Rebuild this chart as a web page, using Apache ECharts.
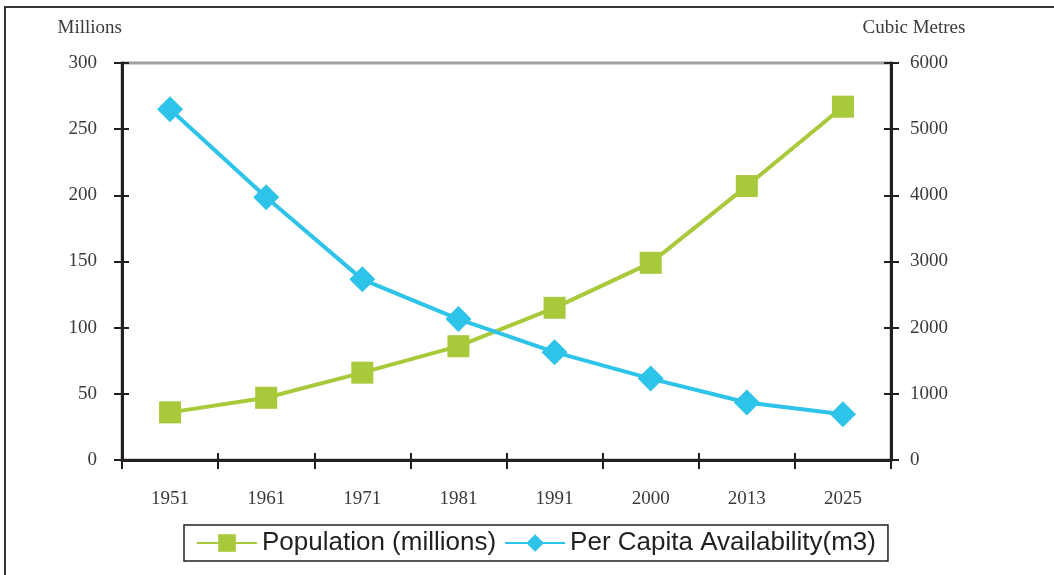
<!DOCTYPE html>
<html>
<head>
<meta charset="utf-8">
<script src="https://cdn.jsdelivr.net/npm/echarts@6/dist/echarts.min.js"></script>
<style>
  html, body { margin: 0; padding: 0; background: #fff; }
  #main { width: 1054px; height: 575px; }
</style>
</head>
<body>
<div id="main"></div>
<script>
var years = ['1951', '1961', '1971', '1981', '1991', '2000', '2013', '2025'];
var population = [36, 47, 66, 86, 115, 149, 207, 267];
var perCapita = [5300, 3970, 2730, 2130, 1630, 1230, 870, 690];
var leftTicks = [0, 50, 100, 150, 200, 250, 300];
var rightTicks = [0, 1000, 2000, 3000, 4000, 5000, 6000];

var myChart = echarts.init(document.getElementById('main'));

var serif = 'Liberation Serif';
var axisColor = '#231f20';
var labelStyle = { fontFamily: serif, fontSize: 19, color: '#3a3a3a' };

var option = {
    animation: false,
    graphic: [
        {
            type: 'rect',
            shape: { x: 5, y: 7, width: 1200, height: 700 },
            style: { fill: 'none', stroke: '#333', lineWidth: 2 },
            z: -1
        }
    ],
    grid: {
        left: 122, right: 163, top: 63, bottom: 115,
        show: true,
        borderColor: '#a0a0a0',
        borderWidth: 3
    },
    legend: {
        left: 184, top: 525,
        padding: [5, 12, 5, 12],
        borderColor: '#231f20',
        borderWidth: 1.5,
        itemWidth: 60,
        itemHeight: 22,
        itemGap: 8,
        textStyle: { fontFamily: 'Liberation Sans', fontSize: 26, color: '#231f20' },
        data: ['Population (millions)', 'Per Capita Availability(m3)']
    },
    xAxis: [
        {
            type: 'category',
            data: years,
            boundaryGap: true,
            axisLine: { lineStyle: { color: axisColor, width: 3 } },
            axisTick: { show: false },
            axisLabel: Object.assign({ margin: 30, interval: 0 }, labelStyle),
            splitLine: { show: false }
        },
        {
            type: 'category',
            data: years,
            position: 'bottom',
            offset: -7,
            boundaryGap: true,
            axisLine: { show: false },
            axisTick: { show: true, interval: 0, length: 16, lineStyle: { color: axisColor, width: 2 } },
            axisLabel: { show: false },
            splitLine: { show: false }
        }
    ],
    yAxis: [
        {
            type: 'value',
            name: 'Millions',
            nameLocation: 'end',
            nameGap: 25,
            nameTextStyle: { fontFamily: serif, fontSize: 19, color: '#3a3a3a', align: 'right' },
            min: 0, max: 300, interval: 50,
            axisLine: { show: true, lineStyle: { color: axisColor, width: 3 } },
            axisTick: { show: true, length: 8, lineStyle: { color: axisColor, width: 2 } },
            axisLabel: Object.assign({ margin: 25, formatter: function (v) { return leftTicks.indexOf(v) >= 0 ? String(v) : ''; } }, labelStyle),
            splitLine: { show: false }
        },
        {
            type: 'value',
            position: 'right',
            name: 'Cubic Metres',
            nameLocation: 'end',
            nameGap: 25,
            nameTextStyle: { fontFamily: serif, fontSize: 19, color: '#3a3a3a', align: 'center', padding: [0, 0, 0, 46] },
            min: 0, max: 6000, interval: 1000,
            axisLine: { show: true, lineStyle: { color: axisColor, width: 3 } },
            axisTick: { show: true, length: 8, lineStyle: { color: axisColor, width: 2 } },
            axisLabel: Object.assign({ margin: 19, formatter: function (v) { return rightTicks.indexOf(v) >= 0 ? String(v) : ''; } }, labelStyle),
            splitLine: { show: false }
        },
        {
            type: 'value',
            position: 'left',
            min: 0, max: 300, interval: 50,
            axisLine: { show: false },
            axisTick: { show: true, inside: true, length: 7, lineStyle: { color: axisColor, width: 2 } },
            axisLabel: { show: false },
            splitLine: { show: false }
        },
        {
            type: 'value',
            position: 'right',
            min: 0, max: 6000, interval: 1000,
            axisLine: { show: false },
            axisTick: { show: true, inside: true, length: 7, lineStyle: { color: axisColor, width: 2 } },
            axisLabel: { show: false },
            splitLine: { show: false }
        }
    ],
    series: [
        {
            name: 'Population (millions)',
            type: 'line',
            yAxisIndex: 0,
            data: population,
            symbol: 'rect',
            symbolSize: 22,
            itemStyle: { color: '#a8c93a' },
            lineStyle: { color: '#a8c93a', width: 4 }
        },
        {
            name: 'Per Capita Availability(m3)',
            type: 'line',
            yAxisIndex: 1,
            data: perCapita,
            symbol: 'diamond',
            symbolSize: 26,
            itemStyle: { color: '#2ec3e8' },
            lineStyle: { color: '#2ec3e8', width: 4 }
        }
    ]
};
myChart.setOption(option);
</script>
</body>
</html>
